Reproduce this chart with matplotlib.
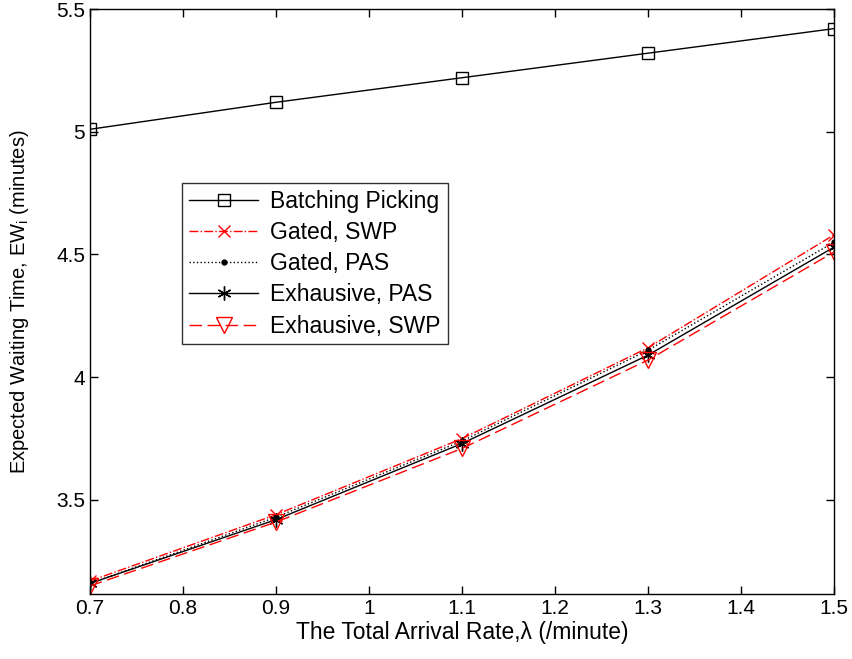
import matplotlib.pyplot as plt

plt.rcParams['font.family'] = ['Liberation Sans', 'DejaVu Sans']
plt.rcParams['mathtext.fontset'] = 'custom'
plt.rcParams['mathtext.rm'] = 'Liberation Sans'

# arrival rates
rates = [0.7, 0.9, 1.1, 1.3, 1.5]

# expected waiting times
batching = [5.01, 5.12, 5.22, 5.32, 5.42]
gated_swp = [3.17, 3.44, 3.75, 4.12, 4.58]
gated_pas = [3.16, 3.43, 3.74, 4.11, 4.55]
exh_pas = [3.16, 3.42, 3.73, 4.09, 4.53]
exh_swp = [3.15, 3.41, 3.71, 4.07, 4.51]

fig = plt.figure(figsize=(8.53, 6.59), dpi=100)
ax = fig.add_axes([90/853, 1-594/659, 744/853, 585/659])

asterisk = (6, 2, 0)
ax.plot(rates, batching, 'k-', marker='s', mfc='none', ms=9, mew=1, lw=1, label='Batching Picking')
ax.plot(rates, gated_swp, 'r-.', marker='x', ms=9, mew=1, lw=1, label='Gated, SWP')
ax.plot(rates, gated_pas, 'k:', marker='.', ms=7, lw=1, label='Gated, PAS')
ax.plot(rates, exh_pas, 'k-', marker=asterisk, ms=10, mew=1, lw=1, label='Exhausive, PAS')
ax.plot(rates, exh_swp, 'r--', marker='v', mfc='none', ms=12, mew=1, lw=1, dashes=(9, 4), label='Exhausive, SWP')

ax.set_xlim(0.7, 1.5)
ax.set_ylim(3.117, 5.5)
ax.set_xticks([0.7, 0.8, 0.9, 1.0, 1.1, 1.2, 1.3, 1.4, 1.5])
ax.set_xticklabels(['0.7', '0.8', '0.9', '1', '1.1', '1.2', '1.3', '1.4', '1.5'])
ax.set_yticks([3.5, 4, 4.5, 5, 5.5])
ax.set_yticklabels(['3.5', '4', '4.5', '5', '5.5'])
ax.tick_params(direction='in', labelsize=15, length=6, top=True, right=True, width=1)
for s in ax.spines.values():
    s.set_linewidth(1)

ax.set_xlabel('The Total Arrival Rate,λ (/minute)', fontsize=16.5, labelpad=2)
ax.set_ylabel('Expected Waiting Time, EW$_{\\rm i}$ (minutes)', fontsize=14.5, labelpad=18)

leg = ax.legend(loc='upper left', bbox_to_anchor=(0.124, 0.703), fontsize=16.5,
                frameon=True, fancybox=False, edgecolor='k', handlelength=3.0,
                borderpad=0.3, labelspacing=0.36, handletextpad=0.55, borderaxespad=0)
leg.get_frame().set_linewidth(1)

fig.savefig('out.png')
